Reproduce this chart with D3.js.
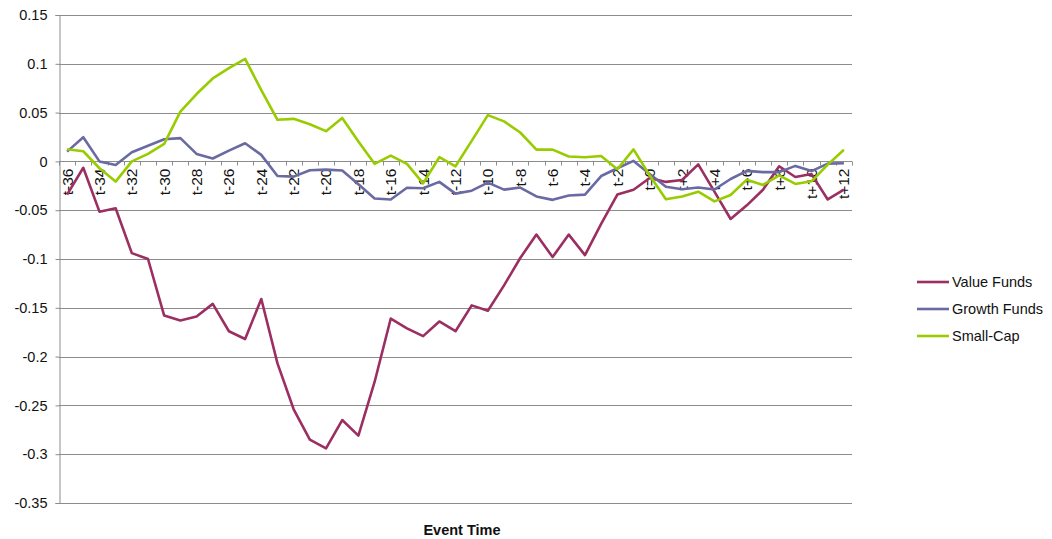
<!DOCTYPE html>
<html>
<head>
<meta charset="utf-8">
<script src="https://cdn.jsdelivr.net/npm/d3@7/dist/d3.min.js"></script>
<style>
  html, body { margin: 0; padding: 0; background: #fff; }
  svg { display: block; font-family: "Liberation Sans", Arial, sans-serif; }
</style>
</head>
<body>
<svg id="chart" width="1052" height="539"></svg>
<script>
// Event-time axis: t-36 … t-1, t=0, t+1 … t+12
const categories = [];
for (let k = -36; k <= 12; k++) categories.push(k < 0 ? "t" + k : k === 0 ? "t=0" : "t+" + k);

const valueFunds = [
  -0.034, -0.0065, -0.0515, -0.048, -0.094, -0.100, -0.158, -0.163, -0.159, -0.146,
  -0.174, -0.182, -0.141, -0.207, -0.254, -0.285, -0.294, -0.265, -0.281, -0.226,
  -0.161, -0.171, -0.179, -0.164, -0.174, -0.1475, -0.153, -0.127, -0.099, -0.075,
  -0.098, -0.075, -0.096, -0.064, -0.034, -0.029, -0.017, -0.021, -0.019, -0.003,
  -0.031, -0.059, -0.045, -0.029, -0.005, -0.016, -0.013, -0.039, -0.029
];

const growthFunds = [
  0.010, 0.0248, 0.000, -0.0036, 0.0094, 0.016, 0.0227, 0.0238, 0.0077, 0.003,
  0.011, 0.0186, 0.0067, -0.0149, -0.0156, -0.009, -0.0084, -0.0094, -0.0234, -0.038,
  -0.039, -0.027, -0.0275, -0.021, -0.033, -0.030, -0.0217, -0.0289, -0.0268, -0.0359,
  -0.0394, -0.035, -0.034, -0.015, -0.007, 0.0005, -0.013, -0.026, -0.0285, -0.0267,
  -0.0288, -0.018, -0.0097, -0.011, -0.011, -0.0046, -0.0099, -0.0023, -0.0019
];

const smallCap = [
  0.0125, 0.0104, -0.007, -0.0207, 0.000, 0.0077, 0.018, 0.051, 0.069, 0.085,
  0.0956, 0.105, 0.073, 0.0426, 0.0436, 0.038, 0.031, 0.0445, 0.0205, -0.0025,
  0.006, -0.0025, -0.0225, 0.0043, -0.005, 0.021, 0.0474, 0.041, 0.0296, 0.0121,
  0.0121, 0.005, 0.0043, 0.0055, -0.008, 0.0123, -0.0145, -0.0388, -0.036, -0.031,
  -0.041, -0.0344, -0.0187, -0.0241, -0.0143, -0.0231, -0.0204, -0.0033, 0.012
];

const seriesNames = ["Value Funds", "Growth Funds", "Small-Cap"];
const seriesColors = ["#9b2f62", "#6a6aa3", "#99cc00"];
const yTicks = [0.15, 0.1, 0.05, 0, -0.05, -0.1, -0.15, -0.2, -0.25, -0.3, -0.35];
const yTickLabels = ["0.15", "0.1", "0.05", "0", "-0.05", "-0.1", "-0.15", "-0.2", "-0.25", "-0.3", "-0.35"];
const xAxisTitle = "Event Time";

const series = [valueFunds, growthFunds, smallCap].map((vals, i) => ({
  name: seriesNames[i], color: seriesColors[i], values: vals
}));

const svg = d3.select("#chart");
const plotLeft = 59, plotRight = 852, plotTop = 15, plotBottom = 503;

const x = d3.scaleBand().domain(categories).range([plotLeft, plotRight]).padding(0);
const y = d3.scaleLinear().domain([-0.35, 0.15]).range([plotBottom, plotTop]);
const cx = c => x(c) + x.bandwidth() / 2;

const gridColor = "#8c8c8c";
const fontSize = 14.5;

// y axis with tick labels
const yAxis = d3.axisLeft(y)
  .tickValues(yTicks)
  .tickFormat((d, i) => yTickLabels[i])
  .tickSize(4)
  .tickPadding(8);
const gy = svg.append("g").attr("transform", `translate(${plotLeft + 0.5},0)`).call(yAxis);
gy.select(".domain").attr("stroke", gridColor);
gy.selectAll(".tick line").attr("stroke", gridColor);
gy.selectAll(".tick text")
  .attr("font-size", fontSize)
  .attr("fill", "#111")
  .attr("font-family", "\"Liberation Sans\", Arial, sans-serif");

// horizontal gridlines
svg.append("g")
  .selectAll("line")
  .data(yTicks.filter(v => v !== 0))
  .join("line")
  .attr("x1", plotLeft)
  .attr("x2", plotRight)
  .attr("y1", d => Math.round(y(d)) + 0.5)
  .attr("y2", d => Math.round(y(d)) + 0.5)
  .attr("stroke", gridColor)
  .attr("stroke-width", 1);

// category axis sitting on the zero line
const zeroY = Math.round(y(0)) + 0.5;
svg.append("line")
  .attr("x1", plotLeft).attr("x2", plotRight)
  .attr("y1", zeroY).attr("y2", zeroY)
  .attr("stroke", gridColor);

const boundaries = categories.map(c => x(c)).concat([plotRight]);
svg.append("g")
  .selectAll("line")
  .data(boundaries)
  .join("line")
  .attr("x1", d => Math.round(d) + 0.5)
  .attr("x2", d => Math.round(d) + 0.5)
  .attr("y1", zeroY)
  .attr("y2", zeroY + 4)
  .attr("stroke", gridColor);

svg.append("g")
  .selectAll("text")
  .data(categories.filter((c, i) => i % 2 === 0))
  .join("text")
  .attr("transform", d => `translate(${cx(d)},${zeroY + 7}) rotate(-90)`)
  .attr("text-anchor", "end")
  .attr("dy", "0.35em")
  .attr("font-size", 15.5)
  .attr("fill", "#111")
  .text(d => d);

// series lines
const line = d3.line()
  .x((d, i) => cx(categories[i]))
  .y(d => y(d));

svg.append("g")
  .selectAll("path")
  .data(series)
  .join("path")
  .attr("d", d => line(d.values))
  .attr("fill", "none")
  .attr("stroke", d => d.color)
  .attr("stroke-width", 2.6)
  .attr("stroke-linejoin", "round");

// x axis title
svg.append("text")
  .attr("x", 462)
  .attr("y", 535)
  .attr("text-anchor", "middle")
  .attr("font-size", fontSize)
  .attr("font-weight", "bold")
  .attr("fill", "#111")
  .text(xAxisTitle);

// legend
const legend = svg.append("g").attr("transform", "translate(917,282)");
const items = legend.selectAll("g")
  .data(series)
  .join("g")
  .attr("transform", (d, i) => `translate(0,${i * 27})`);
items.append("line")
  .attr("x1", 0).attr("x2", 32)
  .attr("stroke", d => d.color)
  .attr("stroke-width", 2.6);
items.append("text")
  .attr("x", 35)
  .attr("dy", "0.35em")
  .attr("font-size", fontSize)
  .attr("fill", "#111")
  .text(d => d.name);
</script>
</body>
</html>
